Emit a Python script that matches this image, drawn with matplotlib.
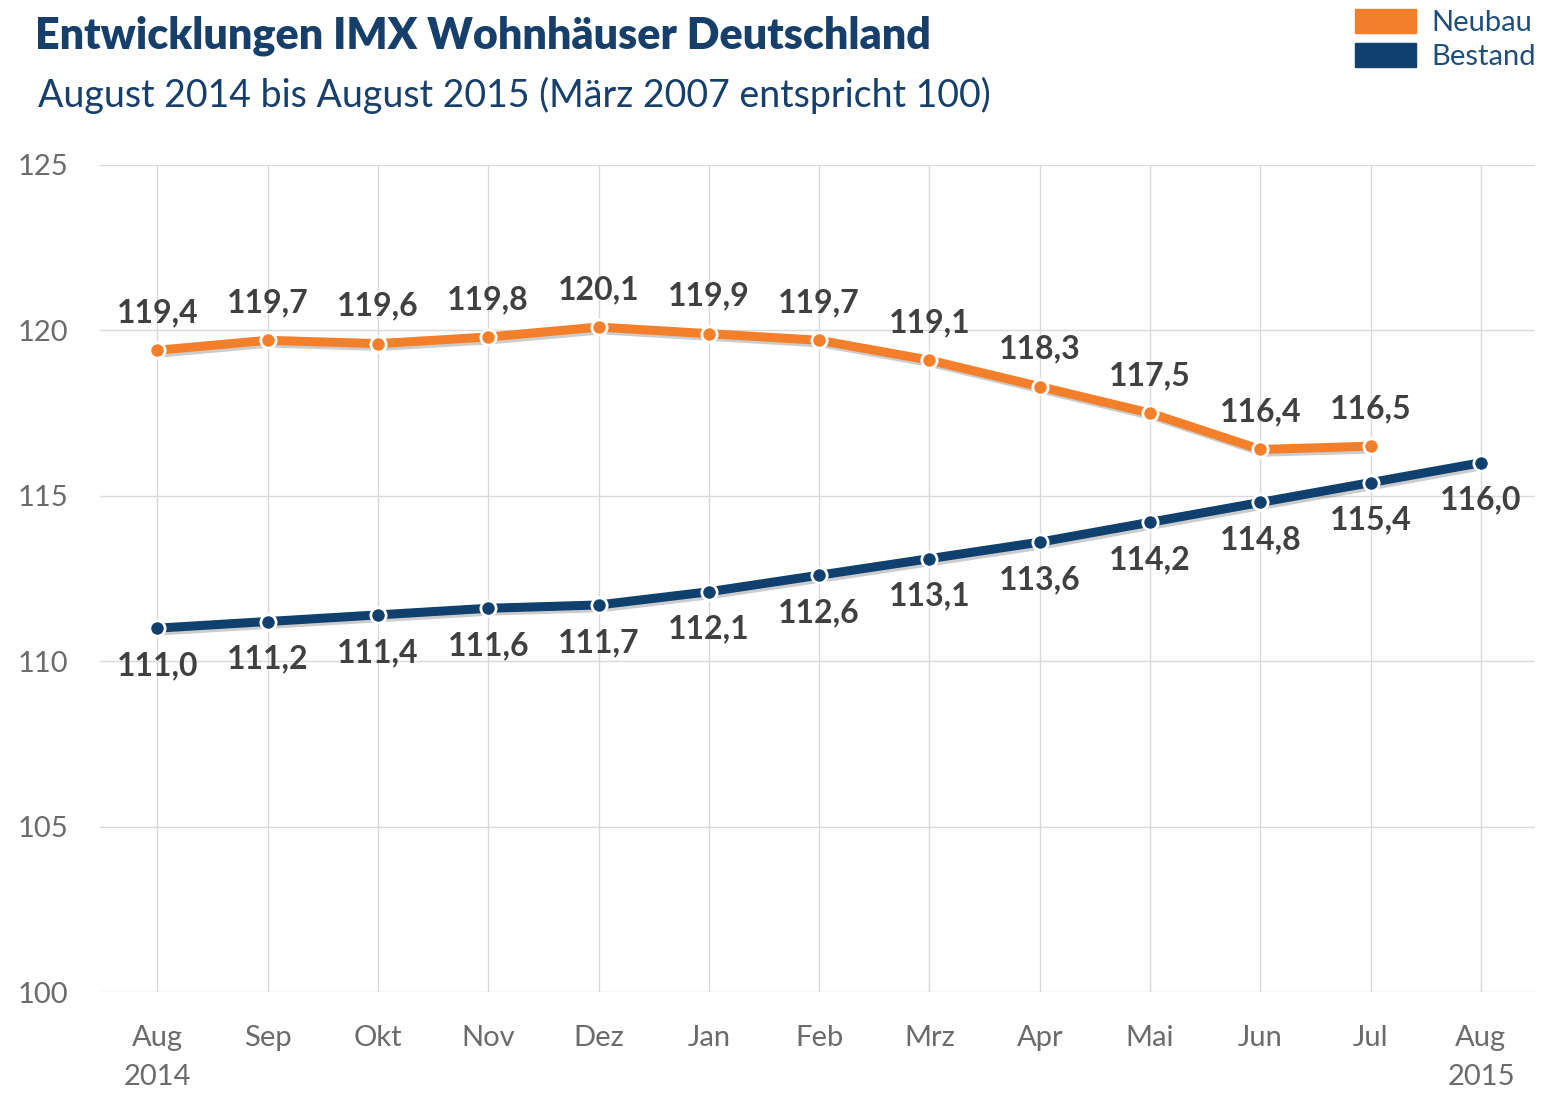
import matplotlib.pyplot as plt
import matplotlib.patheffects as pe
from matplotlib.patches import Patch

# Data
months = ["Aug\n2014", "Sep", "Okt", "Nov", "Dez", "Jan", "Feb",
          "Mrz", "Apr", "Mai", "Jun", "Jul", "Aug\n2015"]
neubau = [119.4, 119.7, 119.6, 119.8, 120.1, 119.9, 119.7,
          119.1, 118.3, 117.5, 116.4, 116.5]
bestand = [111.0, 111.2, 111.4, 111.6, 111.7, 112.1, 112.6,
           113.1, 113.6, 114.2, 114.8, 115.4, 116.0]

ORANGE = "#F47F2A"
NAVY = "#10406E"
TITLE_COL = "#173F6B"
LABEL_COL = "#404040"
TICK_COL = "#6B6B6B"
GRID_COL = "#D9D9D9"

plt.rcParams['font.family'] = ['Lato', 'DejaVu Sans']

fig = plt.figure(figsize=(15.53, 10.94), dpi=100)
ax = fig.add_axes([0.0644, 0.0932, 0.924, 0.756])

shadow = [pe.SimpleLineShadow(offset=(2, -2), alpha=0.2), pe.Normal()]

for values, color in [(neubau, ORANGE), (bestand, NAVY)]:
    x = list(range(len(values)))
    ax.plot(x, values, color=color, lw=6.5, solid_capstyle='round',
            path_effects=shadow, zorder=3)
    ax.plot(x, values, ls='none', marker='o', ms=11, mfc=color,
            mec='white', mew=2, zorder=4)

# Value labels
for i, v in enumerate(neubau):
    ax.annotate(f"{v:.1f}".replace(".", ","), (i, v), xytext=(0, 27),
                textcoords='offset points', ha='center', va='center',
                fontsize=23, fontweight='bold', color=LABEL_COL)
for i, v in enumerate(bestand):
    ax.annotate(f"{v:.1f}".replace(".", ","), (i, v), xytext=(0, -27),
                textcoords='offset points', ha='center', va='center',
                fontsize=23, fontweight='bold', color=LABEL_COL)

ax.set_xlim(-0.52, 12.49)
ax.set_ylim(100, 125)
ax.set_yticks(range(100, 126, 5))
ax.set_xticks(range(len(months)))
ax.set_xticklabels(months, linespacing=1.6)
ax.tick_params(axis='both', length=0, labelsize=21, labelcolor=TICK_COL)
ax.tick_params(axis='y', pad=23)
ax.tick_params(axis='x', pad=24)
ax.grid(True, color=GRID_COL, lw=1)
ax.set_axisbelow(True)
for s in ax.spines.values():
    s.set_visible(False)

# Titles
fig.text(0.0225, 0.967, "Entwicklungen IMX Wohnhäuser Deutschland",
         fontsize=31, fontweight='heavy', color=TITLE_COL, va='center')
fig.text(0.0245, 0.913, "August 2014 bis August 2015 (März 2007 entspricht 100)",
         fontsize=27, color=TITLE_COL, va='center')

handles = [Patch(color=ORANGE, label="Neubau"), Patch(color=NAVY, label="Bestand")]
leg = fig.legend(handles=handles, loc='upper right', bbox_to_anchor=(1.002, 1.01),
                 frameon=False, fontsize=21, handlelength=2.1, handleheight=0.85,
                 labelspacing=0.25, handletextpad=0.5, borderaxespad=0.3)
for t in leg.get_texts():
    t.set_color("#1F4E7A")

fig.savefig("out.png", dpi=100)
